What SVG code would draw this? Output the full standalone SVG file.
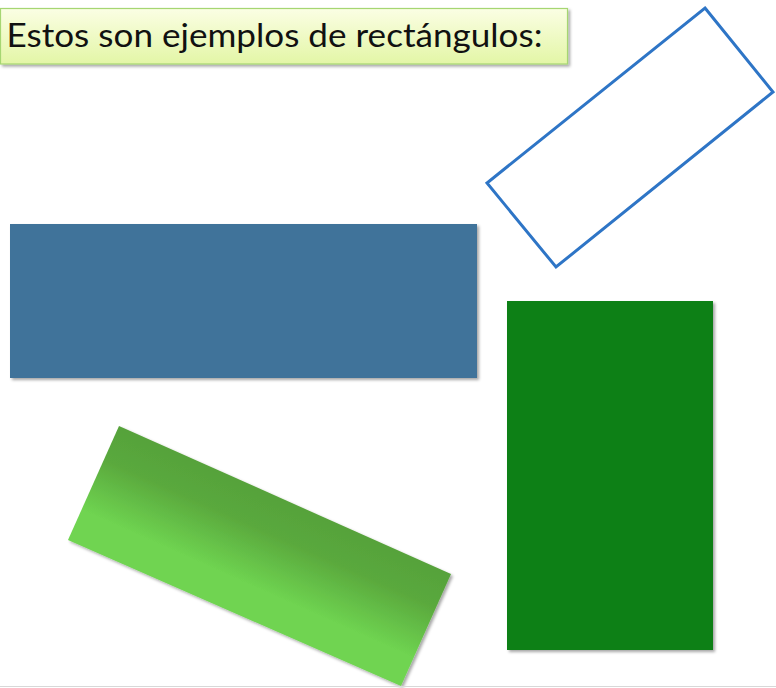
<svg xmlns="http://www.w3.org/2000/svg" width="776" height="688" viewBox="0 0 776 688">
<defs>
<style>
.title{font-family:Lato,"Open Sans","Liberation Sans",sans-serif;font-size:33px;fill:#111}
</style>
<filter id="sh" x="-10%" y="-10%" width="120%" height="130%">
<feDropShadow dx="2" dy="2" stdDeviation="1.5" flood-color="#000" flood-opacity="0.35"/>
</filter>
<linearGradient id="tg" x1="0" y1="0" x2="0" y2="1">
<stop offset="0" stop-color="#fbfee4"/>
<stop offset="1" stop-color="#e3f6a6"/>
</linearGradient>
<linearGradient id="gg" gradientUnits="userSpaceOnUse" x1="285" y1="500" x2="235" y2="612">
<stop offset="0" stop-color="#56a23a"/>
<stop offset="0.3" stop-color="#5aa93d"/>
<stop offset="0.75" stop-color="#6fd451"/>
<stop offset="1" stop-color="#6fd451"/>
</linearGradient>
</defs>
<rect width="776" height="688" fill="#fff"/>
<g id="title">
<rect x="0.5" y="8.5" width="567" height="55.5" fill="url(#tg)" stroke="#a6d672" stroke-width="1.2" filter="url(#sh)"/>
<text class="title" x="6.5" y="47" textLength="536" lengthAdjust="spacingAndGlyphs">Estos son ejemplos de rectángulos:</text>
</g>
<g id="rect-outline">
<polygon points="705,8 773,92 556,267 487,183" fill="#fff" stroke="#2e75c6" stroke-width="3" stroke-linejoin="miter"/>
</g>
<g id="rect-blue">
<rect x="10" y="224" width="467" height="154" fill="#41739a" filter="url(#sh)"/>
</g>
<g id="rect-darkgreen">
<rect x="507" y="301" width="206" height="349" fill="#088013" filter="url(#sh)"/>
</g>
<g id="rect-gradient">
<polygon points="119,426 451,574 401,686 68,540" fill="url(#gg)" filter="url(#sh)"/>
</g>
<line x1="0" y1="686.5" x2="776" y2="686.5" stroke="#d8d8d8" stroke-width="1"/>
</svg>
